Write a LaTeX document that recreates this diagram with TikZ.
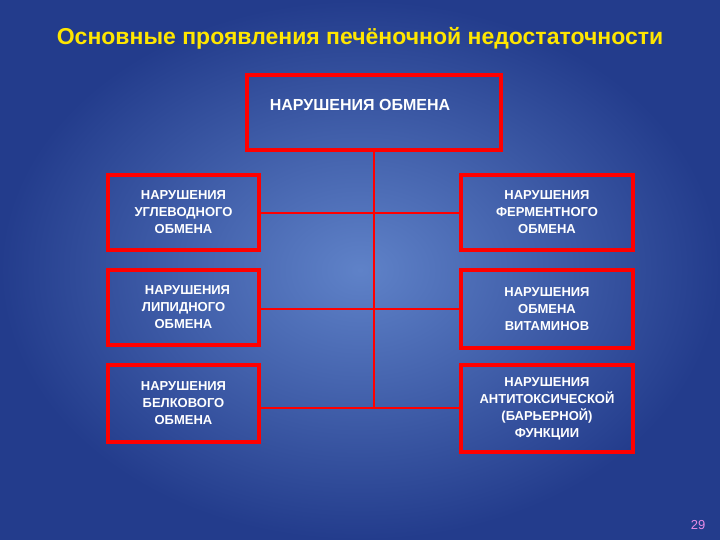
\documentclass[tikz,border=0pt]{standalone}
\usepackage{fontspec}
\setmainfont{Liberation Sans}
\begin{document}
\begin{tikzpicture}[x=1pt,y=-1pt,
  box/.style={draw=red,line width=4pt,text=white,font=\fontsize{13}{17}\selectfont\bfseries,align=center,inner sep=0pt},
  conn/.style={draw=red,line width=2pt}]
\definecolor{bgin}{RGB}{95,130,200}
\definecolor{bgout}{RGB}{35,60,140}
\shade[inner color=bgin,outer color=bgout] (0,0) rectangle (720,540);
\useasboundingbox (0,0) rectangle (720,540);
\node[text={rgb,255:red,255;green,230;blue,0},font=\fontsize{23}{26}\selectfont\bfseries] (title) at (360,38) {Основные проявления печёночной недостаточности};
\node[box,minimum width=254pt,minimum height=75pt] (top) at (374,112.5) {};
\node[text=white,font=\fontsize{16}{19}\selectfont\bfseries] (toptext) at (360,105) {НАРУШЕНИЯ ОБМЕНА};
\node[box,minimum width=151pt,minimum height=75pt] (l1) at (183.5,212.5) {НАРУШЕНИЯ\\УГЛЕВОДНОГО\\ОБМЕНА};
\node[box,minimum width=151pt,minimum height=75pt] (l2) at (183.5,307.5) {\hspace*{8pt}НАРУШЕНИЯ\\ЛИПИДНОГО\\ОБМЕНА};
\node[box,minimum width=151pt,minimum height=77pt] (l3) at (183.5,403.5) {НАРУШЕНИЯ\\БЕЛКОВОГО\\ОБМЕНА};
\node[box,minimum width=172pt,minimum height=75pt] (r1) at (547,212.5) {НАРУШЕНИЯ\\ФЕРМЕНТНОГО\\ОБМЕНА};
\node[box,minimum width=172pt,minimum height=78pt] (r2) at (547,309) {НАРУШЕНИЯ\\ОБМЕНА\\ВИТАМИНОВ};
\node[box,minimum width=172pt,minimum height=87pt] (r3) at (547,408.5) {НАРУШЕНИЯ\\АНТИТОКСИЧЕСКОЙ\\(БАРЬЕРНОЙ)\\ФУНКЦИИ};
\coordinate (tb) at (374,150);
\coordinate (vb) at (374,408);
\draw[conn] (tb) -- (vb);
\draw[conn] (l1.east |- 0,213) -- (r1.west |- 0,213);
\draw[conn] (l2.east |- 0,309) -- (r2.west |- 0,309);
\draw[conn] (l3.east |- 0,408) -- (r3.west |- 0,408);
\node[text={rgb,255:red,230;green,140;blue,230},font=\fontsize{13}{15}\selectfont] (pg) at (698,525) {29};
\end{tikzpicture}
\end{document}
